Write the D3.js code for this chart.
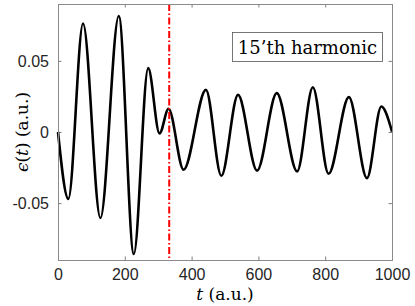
<!DOCTYPE html>
<html>
<head>
<meta charset="utf-8">
<script src="https://cdn.jsdelivr.net/npm/d3@7"></script>
<style>
  body { margin: 0; background: #fff; }
  .axis text { font-family: "Liberation Sans", Arial, sans-serif; font-size: 16px; fill: #262626; }
  .tex { font-family: "DejaVu Serif", serif; fill: #000; }
</style>
</head>
<body>
<svg id="chart"></svg>
<script>
// time samples (a.u.) read at the extrema of the trace
const tValues = [0, 31, 75, 127, 182, 227, 270, 304, 331, 376, 443, 489, 539, 596, 655, 716, 763, 810, 871, 925, 968, 1000];
// epsilon(t) at those samples (a.u.)
const epsValues = [0, -0.047, 0.0763, -0.0605, 0.0816, -0.0858, 0.0449, -0.001, 0.0163, -0.0265, 0.0296, -0.0308, 0.0261, -0.0272, 0.0273, -0.0277, 0.0315, -0.0294, 0.0245, -0.0324, 0.0179, 0.0003];

const xTicks = [0, 200, 400, 600, 800, 1000];
const yTicks = [-0.05, 0, 0.05];
const yTickLabels = ['-0.05', '0', '0.05'];
const markerT = [333];
const legendLabel = '15\u2019th harmonic';

class HarmonicChart {

    constructor(_config) {
        this.config = {
            parentElement: _config.parentElement,
            containerWidth: 415,
            containerHeight: 306,
            margin: { top: 4, bottom: 46, right: 23, left: 58 }
        };
        this.initVis();
    }

    initVis() {
        let vis = this;

        vis.width = vis.config.containerWidth - vis.config.margin.left - vis.config.margin.right;
        vis.height = vis.config.containerHeight - vis.config.margin.top - vis.config.margin.bottom;

        vis.svg = d3.select(vis.config.parentElement)
            .attr('width', vis.config.containerWidth)
            .attr('height', vis.config.containerHeight);

        vis.chart = vis.svg.append('g')
            .attr('transform', `translate(${vis.config.margin.left},${vis.config.margin.top})`);

        // scales
        vis.xScale = d3.scaleLinear().domain([0, 1000]).range([0, vis.width]);
        vis.yScale = d3.scaleLinear().domain([-0.09, 0.09]).range([vis.height, 0]);

        // axes, ticks pointing inwards like matlab
        vis.xAxis = d3.axisBottom(vis.xScale).tickValues(xTicks).tickFormat(d3.format('d'))
            .tickSizeInner(-3.5).tickSizeOuter(0).tickPadding(9);
        vis.yAxis = d3.axisLeft(vis.yScale).tickValues(yTicks)
            .tickFormat((d, i) => yTickLabels[i]).tickSizeInner(-3.5).tickSizeOuter(0).tickPadding(9);
        vis.xAxisTop = d3.axisTop(vis.xScale).tickValues(xTicks).tickSizeInner(-3.5).tickSizeOuter(0).tickFormat('');
        vis.yAxisRight = d3.axisRight(vis.yScale).tickValues(yTicks).tickSizeInner(-3.5).tickSizeOuter(0).tickFormat('');
    }

    renderVis() {
        let vis = this;

        // trace
        const line = d3.line()
            .x(d => vis.xScale(d[0]))
            .y(d => vis.yScale(d[1]))
            .curve(d3.curveMonotoneX);

        vis.chart.append('path')
            .datum(tValues.map((t, i) => [t, epsValues[i]]))
            .attr('fill', 'none')
            .attr('stroke', '#000')
            .attr('stroke-width', 2.6)
            .attr('stroke-linejoin', 'round')
            .attr('d', line);

        // red dash-dot marker
        vis.chart.selectAll('.marker')
            .data(markerT)
            .enter()
            .append('line')
                .attr('class', 'marker')
                .attr('x1', d => vis.xScale(d))
                .attr('x2', d => vis.xScale(d))
                .attr('y1', 0)
                .attr('y2', vis.height)
                .attr('stroke', '#ff0000')
                .attr('stroke-width', 2)
                .attr('stroke-dasharray', '7,2.5,1.5,2.5');

        // axes
        const styleAxis = g => {
            g.select('.domain').remove();
            g.selectAll('.tick line').attr('stroke', '#262626').attr('stroke-width', 0.6);
        };
        vis.chart.append('g').attr('class', 'axis')
            .attr('transform', `translate(0,${vis.height})`)
            .call(vis.xAxis).call(styleAxis);
        vis.chart.append('g').attr('class', 'axis')
            .call(vis.yAxis).call(styleAxis);
        vis.chart.append('g').attr('class', 'axis')
            .call(vis.xAxisTop).call(styleAxis);
        vis.chart.append('g').attr('class', 'axis')
            .attr('transform', `translate(${vis.width},0)`)
            .call(vis.yAxisRight).call(styleAxis);

        // frame
        vis.chart.append('rect')
            .attr('x', 0.5).attr('y', 0.5)
            .attr('width', vis.width).attr('height', vis.height)
            .attr('fill', 'none')
            .attr('stroke', '#8a8a8a')
            .attr('stroke-width', 1);

        // legend box
        const legend = vis.chart.append('g')
            .attr('transform', `translate(${vis.width - 160},28.5)`);
        legend.append('rect')
            .attr('x', 0.5).attr('y', 0)
            .attr('width', 150).attr('height', 29)
            .attr('fill', '#fff')
            .attr('stroke', '#555')
            .attr('stroke-width', 0.8);
        legend.append('text')
            .attr('class', 'tex')
            .attr('x', 75.5).attr('y', 21)
            .attr('text-anchor', 'middle')
            .attr('font-size', '18px')
            .text(legendLabel);

        // axis titles
        const xTitle = vis.svg.append('text')
            .attr('class', 'tex')
            .attr('x', vis.config.margin.left + vis.width / 2)
            .attr('y', 300)
            .attr('text-anchor', 'middle')
            .attr('font-size', '17px');
        xTitle.append('tspan').attr('font-style', 'italic').text('t');
        xTitle.append('tspan').text(' (a.u.)');

        const yTitle = vis.svg.append('text')
            .attr('class', 'tex')
            .attr('transform', `translate(28,${vis.config.margin.top + vis.height / 2}) rotate(-90)`)
            .attr('text-anchor', 'middle')
            .attr('font-size', '17px');
        yTitle.append('tspan').attr('font-style', 'italic').text('\u03f5');
        yTitle.append('tspan').text('(');
        yTitle.append('tspan').attr('font-style', 'italic').text('t');
        yTitle.append('tspan').text(') (a.u.)');
    }
}

const chart = new HarmonicChart({ parentElement: '#chart' });
chart.renderVis();
</script>
</body>
</html>
